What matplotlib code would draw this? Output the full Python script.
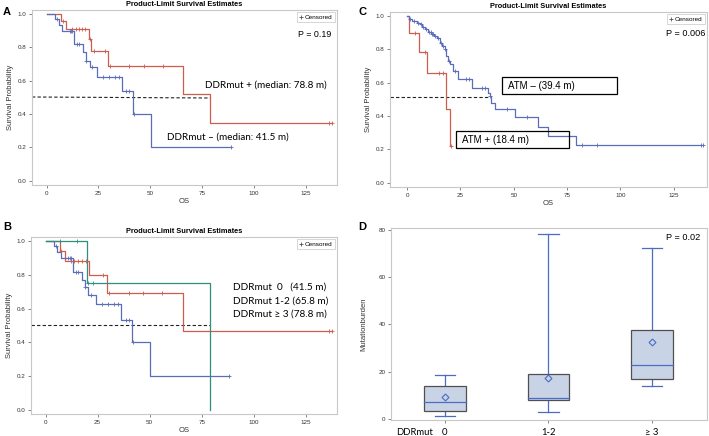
import numpy as np
import matplotlib
matplotlib.use("Agg")
import matplotlib.pyplot as plt
from matplotlib.patches import Rectangle

plt.rcParams['font.family'] = ['Liberation Sans', 'DejaVu Sans']

BLUE = "#5b6cbb"
RED = "#cc5e4e"
GREEN = "#2f8f7e"
FRAME = "#c8c8c8"

# ---- Panel A: DDRmut + / - ----
a_pos_t = [0, 7.1, 9.2, 20.4, 21.5, 29.6, 65.9, 78.8, 137.5]
a_pos_s = [1.0, 0.957, 0.913, 0.85, 0.78, 0.69, 0.52, 0.345, 0.345]
a_pos_cens = [7.8, 12.5, 14.0, 15.5, 17.0, 18.5, 20.9, 23.0, 28.0, 30.5, 40.0, 47.0, 56.0, 136.0, 137.5]

a_neg_t = [0, 4.3, 6.0, 7.6, 13.2, 17.7, 18.8, 21.2, 24.4, 36.5, 41.5, 50.6, 88.7]
a_neg_s = [1.0, 0.97, 0.935, 0.90, 0.82, 0.77, 0.72, 0.68, 0.625, 0.54, 0.40, 0.20, 0.20]
a_neg_cens = [5.0, 11.2, 11.8, 12.4, 14.5, 15.5, 19.2, 22.0, 27.0, 30.0, 33.0, 35.0, 38.5, 40.0, 42.0, 88.7]

# ---- Panel B: DDRmut 0 / 1-2 / >=3 ----
b0_t = [0, 3.9, 5.6, 7.5, 13.2, 17.7, 18.8, 20.6, 24.1, 36.4, 41.5, 50.0, 88.2]
b0_s = [1.0, 0.97, 0.935, 0.90, 0.818, 0.77, 0.73, 0.68, 0.625, 0.535, 0.40, 0.20, 0.20]
b0_cens = [5.0, 11.0, 11.6, 12.2, 14.5, 15.5, 19.0, 22.0, 27.0, 30.0, 33.0, 35.0, 38.5, 40.0, 42.0, 88.2]

b12_t = [0, 6.75, 9.2, 20.9, 29.3, 65.8, 137.5]
b12_s = [1.0, 0.941, 0.885, 0.80, 0.695, 0.465, 0.465]
b12_cens = [7.5, 12.0, 13.5, 15.5, 17.5, 19.5, 27.5, 30.5, 40.0, 47.0, 56.0, 136.0, 137.5]

b3_t = [0, 19.9, 78.8, 78.8]
b3_s = [1.0, 0.75, 0.0, 0.0]
b3_cens = [6.75, 15.1, 20.6, 22.8]

# ---- Panel C: ATM + / - ----
c_pos_t = [0, 0.8, 5.5, 9.4, 18.4, 20.0, 20.8]
c_pos_s = [1.0, 0.90, 0.786, 0.656, 0.44, 0.22, 0.22]
c_pos_cens = [3.5, 8.5, 15.0, 17.0, 20.8]

c_neg_t = [0, 0.8, 2.5, 4.5, 5.9, 7.0, 8.3, 9.8, 11.4, 12.6, 13.8, 15.3, 16.5, 17.7, 18.4,
           19.2, 20.0, 21.6, 23.9, 30.2, 38.0, 38.8, 39.4, 41.1, 50.5, 61.2, 65.9, 79.0, 138.7]
c_neg_s = [1.0, 0.985, 0.97, 0.96, 0.95, 0.935, 0.92, 0.905, 0.89, 0.88, 0.87, 0.84, 0.82, 0.80, 0.76,
           0.73, 0.71, 0.67, 0.62, 0.566, 0.54, 0.52, 0.48, 0.44, 0.396, 0.337, 0.282, 0.228, 0.228]
c_neg_cens = [1.5, 3.2, 5.0, 6.4, 7.5, 9.0, 10.2, 11.0, 11.8, 12.2, 13.2, 14.3, 15.8, 17.0, 18.0,
              19.5, 22.5, 27.5, 29.0, 35.0, 36.5, 39.0, 47.0, 56.0, 82.0, 89.0, 137.8, 138.7]

# ---- Panel D: mutation burden box plot ----
d_cats = ["0", "1-2", "\u2265 3"]
d_low = [1.1, 2.8, 14.0]
d_q1 = [3.1, 7.9, 16.7]
d_med = [7.0, 8.7, 22.6]
d_q3 = [14.0, 19.1, 37.4]
d_high = [18.4, 78.0, 72.3]
d_mean = [9.1, 17.4, 32.6]


def level_at(times, surv, t):
    i = np.searchsorted(times, t, side="right") - 1
    return surv[max(i, 0)]


def km(ax, times, surv, cens, color):
    ax.step(times, surv, where="post", color=color, lw=0.9, zorder=3)
    cy = [level_at(times, surv, c) for c in cens]
    ax.plot(cens, cy, "+", color=color, ms=3.2, mew=0.6, zorder=4)


def style_km(ax, xlim):
    ax.set_xlim(*xlim)
    ax.set_ylim(-0.025, 1.025)
    ax.set_xticks([0, 25, 50, 75, 100, 125])
    ax.set_yticks([0, 0.2, 0.4, 0.6, 0.8, 1.0])
    ax.set_yticklabels(["0.0", "0.2", "0.4", "0.6", "0.8", "1.0"])
    ax.tick_params(labelsize=4.5, length=2, width=0.5, colors="#555555", labelcolor="#333333", pad=2)
    for s in ax.spines.values():
        s.set_color(FRAME)
        s.set_linewidth(0.8)
    ax.set_xlabel("OS", fontsize=5.5, labelpad=2, color="#333333")
    ax.set_ylabel("Survival Probability", fontsize=5.5, labelpad=3, color="#333333")
    ax.set_title("Product-Limit Survival Estimates", fontsize=5.3, fontweight="bold", pad=3)
    ax.plot([], [], "+", color="#555555", ms=3, mew=0.6, label="Censored")
    leg = ax.legend(loc="upper right", fontsize=4.6, handlelength=0.6, handletextpad=0.3,
                    borderpad=0.4, borderaxespad=0.3, fancybox=False, framealpha=1)
    leg.get_frame().set_edgecolor("#d0d0d0")
    leg.get_frame().set_linewidth(0.6)


fig = plt.figure(figsize=(7.09, 4.36), dpi=100)

axA = fig.add_axes([0.0451, 0.5757, 0.4302, 0.4014])
axC = fig.add_axes([0.5501, 0.5711, 0.4471, 0.4014])
axB = fig.add_axes([0.0437, 0.0505, 0.4316, 0.4060])
axD = fig.add_axes([0.5515, 0.0367, 0.4457, 0.4404])

# Panel A
km(axA, a_pos_t, a_pos_s, a_pos_cens, RED)
km(axA, a_neg_t, a_neg_s, a_neg_cens, BLUE)
axA.plot([-7, 78.8], [0.503, 0.497], "--", color="#222222", lw=0.8, dashes=(3, 2), zorder=2)
style_km(axA, (-7, 140))
axA.text(76.2, 0.575, "DDRmut + (median: 78.8 m)", fontsize=7.1, family="Lato", va="center")
axA.text(57.9, 0.263, "DDRmut \u2013 (median: 41.5 m)", fontsize=7.1, family="Lato", va="center")
axA.text(137, 0.88, "P = 0.19", fontsize=6.4, ha="right", va="center")

# Panel B
km(axB, b12_t, b12_s, b12_cens, RED)
km(axB, b0_t, b0_s, b0_cens, BLUE)
km(axB, b3_t, b3_s, b3_cens, GREEN)
axB.plot([-7, 78.8], [0.505, 0.505], "--", color="#222222", lw=0.8, dashes=(3, 2), zorder=2)
style_km(axB, (-7, 140))
axB.text(90.2, 0.725, "DDRmut  0   (41.5 m)", fontsize=7.2, family="Lato", va="center")
axB.text(90.2, 0.647, "DDRmut 1-2 (65.8 m)", fontsize=7.2, family="Lato", va="center")
axB.text(90.2, 0.569, "DDRmut \u2265 3 (78.8 m)", fontsize=7.2, family="Lato", va="center")

# Panel C
km(axC, c_pos_t, c_pos_s, c_pos_cens, RED)
km(axC, c_neg_t, c_neg_s, c_neg_cens, BLUE)
axC.plot([-8, 39.0], [0.516, 0.516], "--", color="#222222", lw=0.8, dashes=(3, 2), zorder=2)
style_km(axC, (-8, 140.6))
axC.add_patch(Rectangle((44.4, 0.532), 53.9, 0.102, fill=False, ec="black", lw=0.9, zorder=5))
axC.add_patch(Rectangle((22.8, 0.208), 53.0, 0.102, fill=False, ec="black", lw=0.9, zorder=5))
axC.text(47.2, 0.583, "ATM \u2013 (39.4 m)", fontsize=7, va="center")
axC.text(25.6, 0.259, "ATM + (18.4 m)", fontsize=7, va="center")
axC.text(139.6, 0.898, "P = 0.006", fontsize=6.6, ha="right", va="center")

# Panel D
for i in range(3):
    axD.add_patch(Rectangle((i - 0.2, d_q1[i]), 0.4, d_q3[i] - d_q1[i], fc="#c9d3e6",
                            ec="#505050", lw=0.9, zorder=2))
    axD.plot([i - 0.2, i + 0.2], [d_med[i], d_med[i]], color="#4a6cc4", lw=0.9, zorder=3)
    axD.plot([i, i], [d_q3[i], d_high[i]], color="#4a6cc4", lw=0.9, zorder=1)
    axD.plot([i, i], [d_low[i], d_q1[i]], color="#4a6cc4", lw=0.9, zorder=1)
    axD.plot([i - 0.1, i + 0.1], [d_high[i], d_high[i]], color="#4a6cc4", lw=0.9)
    axD.plot([i - 0.1, i + 0.1], [d_low[i], d_low[i]], color="#4a6cc4", lw=0.9)
    axD.plot(i, d_mean[i], "D", mfc="none", mec="#4a6cc4", ms=3.5, mew=0.8, zorder=4)
axD.set_xlim(-0.52, 2.53)
axD.set_ylim(-0.5, 80.7)
axD.set_yticks([0, 20, 40, 60, 80])
axD.set_xticks([0, 1, 2])
axD.set_xticklabels(d_cats, fontsize=6.8, family="Lato")
axD.tick_params(axis="y", labelsize=4.5, length=2, width=0.5, colors="#555555", labelcolor="#333333", pad=2)
axD.tick_params(axis="x", length=2.5, width=0.5, colors="#555555", labelcolor="black", pad=3.2)
for s in axD.spines.values():
    s.set_color(FRAME)
    s.set_linewidth(0.8)
axD.set_ylabel("Mutationburden", fontsize=5.5, labelpad=8, color="#333333")
# draw first so the tick label position is known, then align the DDRmut prefix to it
fig.canvas.draw()
lbl0 = axD.get_xticklabels()[0]
bx = lbl0.get_window_extent()
x0, y0 = axD.transData.inverted().transform((bx.x0 - 9, bx.y1))
axD.text(x0, y0, "DDRmut", fontsize=6.8, family="Lato", ha="right", va="top", clip_on=False)
axD.text(2.46, 76.8, "P = 0.02", fontsize=6.6, ha="right", va="center")

# panel letters
fig.text(0.004, 0.985, "A", fontsize=8, fontweight="bold", va="top")
fig.text(0.004, 0.490, "B", fontsize=8, fontweight="bold", va="top")
fig.text(0.505, 0.985, "C", fontsize=8, fontweight="bold", va="top")
fig.text(0.505, 0.490, "D", fontsize=8, fontweight="bold", va="top")

fig.savefig("out.png", dpi=100)
